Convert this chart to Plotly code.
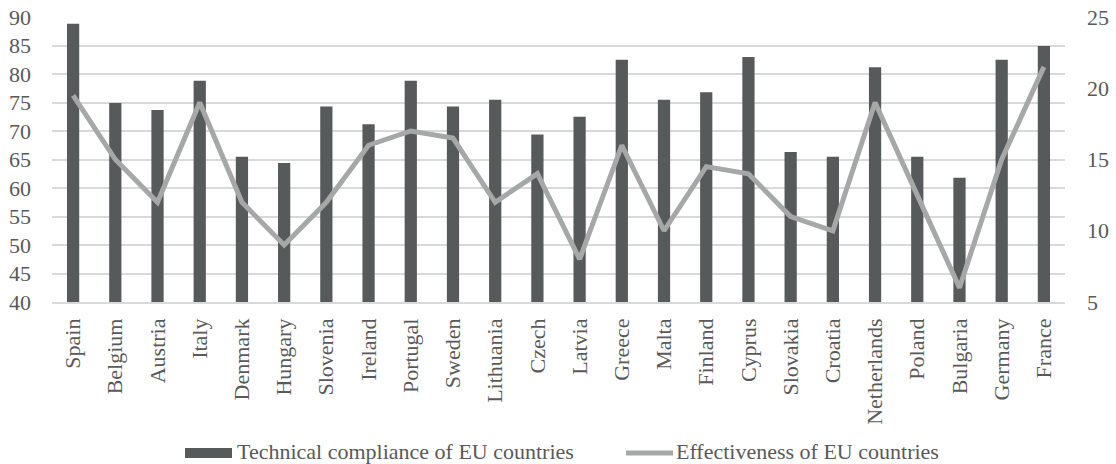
import plotly.graph_objects as go

countries = ["Spain", "Belgium", "Austria", "Italy", "Denmark", "Hungary", "Slovenia",
             "Ireland", "Portugal", "Sweden", "Lithuania", "Czech", "Latvia", "Greece",
             "Malta", "Finland", "Cyprus", "Slovakia", "Croatia", "Netherlands", "Poland",
             "Bulgaria", "Germany", "France"]
technical_compliance = [88.8, 74.9, 73.7, 78.8, 65.5, 64.4, 74.3, 71.2, 78.8, 74.3, 75.5,
                        69.4, 72.5, 82.5, 75.5, 76.8, 83.0, 66.3, 65.5, 81.2, 65.5, 61.8,
                        82.5, 84.9]
effectiveness = [19.5, 15, 12, 19, 12, 9, 12, 16, 17, 16.5, 12, 14, 8, 16, 10, 14.5, 14,
                 11, 10, 19, 12.5, 6, 15, 21.5]
left_ticks = list(range(40, 91, 5))
right_ticks = list(range(5, 26, 5))

FONT = "Liberation Serif"
FS = 22
TEXT = "#595959"
BAR = "#575a5b"
LINE = "#a6a8a8"
GRID = "#d9d9d9"

W, H = 1116, 464
L, R, T, B = 52, 51, 17, 162
pw, ph = W - L - R, H - T - B


def px_to_paper(x, y):
    return (x - L) / pw, (H - B - y) / ph


fig = go.Figure()
fig.add_trace(go.Bar(x=countries, y=technical_compliance, marker_color=BAR,
                     marker_line_width=0, width=0.29, name="Technical compliance of EU countries",
                     showlegend=False))
fig.add_trace(go.Scatter(x=countries, y=effectiveness, mode="lines", yaxis="y2",
                         line=dict(color=LINE, width=5), name="Effectiveness of EU countries",
                         showlegend=False))

# legend drawn by hand: wide swatch for bars, thick stroke for the line
shapes = []
annotations = []
x0, y0 = px_to_paper(185, 448)
x1, y1 = px_to_paper(232, 458)
shapes.append(dict(type="rect", xref="paper", yref="paper", x0=x0, x1=x1, y0=y1, y1=y0,
                   fillcolor=BAR, line=dict(width=0)))
tx, ty = px_to_paper(235, 452)
annotations.append(dict(text="Technical compliance of EU countries", xref="paper", yref="paper",
                        x=tx, y=ty, xanchor="left", yanchor="middle", showarrow=False,
                        font=dict(family=FONT, size=FS, color=TEXT)))
lx0, ly = px_to_paper(626, 453)
lx1, _ = px_to_paper(673, 453)
shapes.append(dict(type="line", xref="paper", yref="paper", x0=lx0, x1=lx1, y0=ly, y1=ly,
                   line=dict(color=LINE, width=5)))
tx2, _ = px_to_paper(674, 452)
annotations.append(dict(text="Effectiveness of EU countries", xref="paper", yref="paper",
                        x=tx2, y=ty, xanchor="left", yanchor="middle", showarrow=False,
                        font=dict(family=FONT, size=FS, color=TEXT)))

fig.update_layout(
    width=W, height=H,
    margin=dict(l=L, r=R, t=T, b=B, autoexpand=False),
    plot_bgcolor="white", paper_bgcolor="white",
    font=dict(family=FONT, size=FS, color=TEXT),
    bargap=0.7,
    shapes=shapes,
    annotations=annotations,
    xaxis=dict(showgrid=False, tickangle=-90, showline=True, linecolor=GRID, linewidth=1.5,
               ticks="", ticklabelstandoff=6, automargin=False,
               tickfont=dict(size=FS, color=TEXT)),
    yaxis=dict(range=[40, 90], tickvals=left_ticks, showgrid=True, gridcolor=GRID, gridwidth=1.5,
               zeroline=False, showline=False, ticks="", ticklabelstandoff=20, automargin=False,
               tickfont=dict(size=FS, color=TEXT)),
    yaxis2=dict(range=[5, 25], tickvals=right_ticks, overlaying="y", side="right",
                showgrid=False, zeroline=False, showline=False, ticks="", automargin=False,
                ticklabelstandoff=21, tickfont=dict(size=FS, color=TEXT)),
)

fig.write_html("out.html")
